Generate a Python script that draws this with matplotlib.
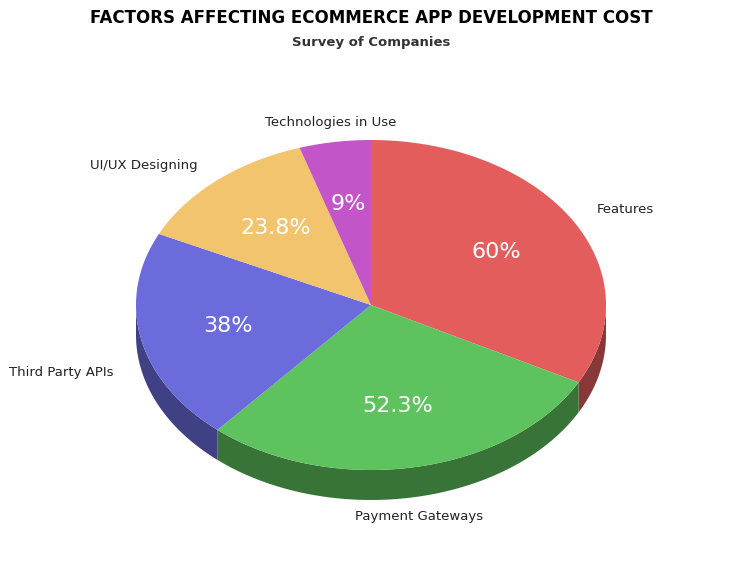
import numpy as np
import matplotlib.pyplot as plt
from matplotlib.patches import Polygon
import matplotlib.colors as mcolors

labels = ['Features', 'Payment Gateways', 'Third Party APIs', 'UI/UX Designing', 'Technologies in Use']
values = [60, 52.3, 38, 23.8, 9]
pct_text = ['60%', '52.3%', '38%', '23.8%', '9%']
colors = ['#e35d5d', '#5ec25e', '#6b6bdc', '#f2c46d', '#c355c8']

cx, cy = 371, 305
rx, ry = 235, 165
depth = 30

fig = plt.figure(figsize=(7.42, 5.61), dpi=100)
ax = fig.add_axes([0, 0, 1, 1])
ax.set_xlim(0, 742)
ax.set_ylim(561, 0)
ax.axis('off')

def pt(t, dy=0, f=1.0):
    r = np.radians(t)
    return cx + f * rx * np.cos(r), cy - f * ry * np.sin(r) + dy

total = sum(values)
angles = []
start = 90.0
for v in values:
    ext = 360.0 * v / total
    angles.append((start - ext, start))
    start -= ext

# side walls (front half only)
for (a0, a1), c in zip(angles, colors):
    s0, s1 = max(a0, -180), min(a1, 0)
    if s1 <= s0:
        continue
    ts = np.linspace(s0, s1, 80)
    top = [pt(t) for t in ts]
    bot = [pt(t, depth) for t in ts[::-1]]
    dark = tuple(np.array(mcolors.to_rgb(c)) * 0.6)
    ax.add_patch(Polygon(top + bot, closed=True, fc=dark, ec='none'))

# top faces
for (a0, a1), c, p in zip(angles, colors, pct_text):
    ts = np.linspace(a0, a1, 120)
    verts = [(cx, cy)] + [pt(t) for t in ts]
    ax.add_patch(Polygon(verts, closed=True, fc=c, ec='none'))
    mid = (a0 + a1) / 2
    x, y = pt(mid, f=0.62)
    ax.text(x, y, p, color='white', fontsize=16, ha='center', va='center')

for (a0, a1), lab in zip(angles, labels):
    mid = (a0 + a1) / 2
    x, y = pt(mid, f=1.12)
    c = np.cos(np.radians(mid))
    ha = 'left' if c > 0.3 else ('right' if c < -0.3 else 'center')
    if np.sin(np.radians(mid)) < 0:
        y += depth
    ax.text(x, y, lab, fontsize=9.5, ha=ha, va='center', color='#222222')

fig.text(0.5, 0.968, 'FACTORS AFFECTING ECOMMERCE APP DEVELOPMENT COST',
         ha='center', va='center', fontsize=12, fontweight='bold')
fig.text(0.5, 0.925, 'Survey of Companies', ha='center', va='center',
         fontsize=9.5, fontweight='bold', color='#333333')

fig.savefig('out.png', dpi=100)
